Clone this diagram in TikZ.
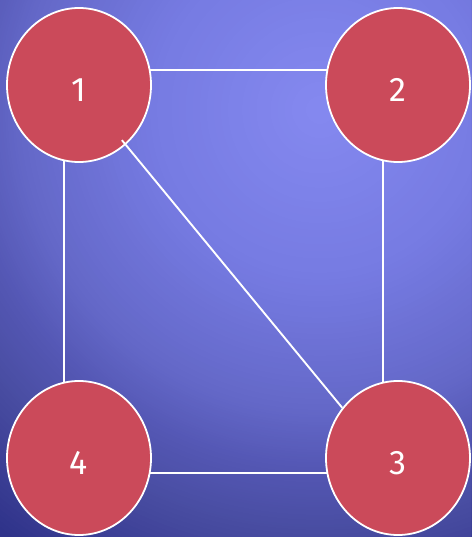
\documentclass[tikz,border=0pt]{standalone}
\usepackage{fontspec}
\setmainfont{Fira Sans}
\usetikzlibrary{shapes.geometric}
\definecolor{g0}{HTML}{8589F0}
\definecolor{g1}{HTML}{767BE2}
\definecolor{g2}{HTML}{6468C8}
\definecolor{g3}{HTML}{5457B4}
\definecolor{g4}{HTML}{494DA2}
\definecolor{g5}{HTML}{2F338A}
\definecolor{g6}{HTML}{2A2E80}
\definecolor{nodefill}{HTML}{CB4A5A}
\tikzset{
  vnode/.style={ellipse, draw=white, line width=1.8pt, fill=nodefill, minimum width=144pt, minimum height=154pt, inner sep=0pt, text=white, text height=33pt, text depth=0pt, font=\fontsize{34}{34}\selectfont},
  edge/.style={draw=white, line width=1.9pt}
}
\begin{document}
\begin{tikzpicture}[x=1pt,y=-1pt]
\useasboundingbox (0,0) rectangle (471,537);
\begin{scope}
\clip (0,0) rectangle (471,537);
\fill[g6] (0,0) rectangle (471,537);
\foreach \ra/\rb/\ca/\cb in {530/700/g5/g6, 420/530/g4/g5, 360/420/g3/g4, 300/360/g2/g3, 170/300/g1/g2, 0/170/g0/g1} {
  \foreach \k in {0,...,23} {
    \pgfmathsetmacro{\rr}{\rb-(\rb-\ra)*\k/24}
    \pgfmathtruncatemacro{\pp}{(24-\k)*100/24}
    \fill[\cb!\pp!\ca] (320,110) circle (\rr);
  }
}
\end{scope}
\node[vnode] (n1) at (79,85) {1};
\node[vnode] (n2) at (398,85) {2};
\node[vnode] (n3) at (398,458) {3};
\node[vnode] (n4) at (79,458) {4};
\draw[edge] (n1.12) -- (n2.168);
\draw[edge] (n4.-12) -- (n3.-168);
\draw[edge] (n1.259) -- (n4.101);
\draw[edge] (n2.259) -- (n3.101);
\draw[edge, shorten <=-6pt] (n1.-52) -- (n3.138);
\end{tikzpicture}
\end{document}
